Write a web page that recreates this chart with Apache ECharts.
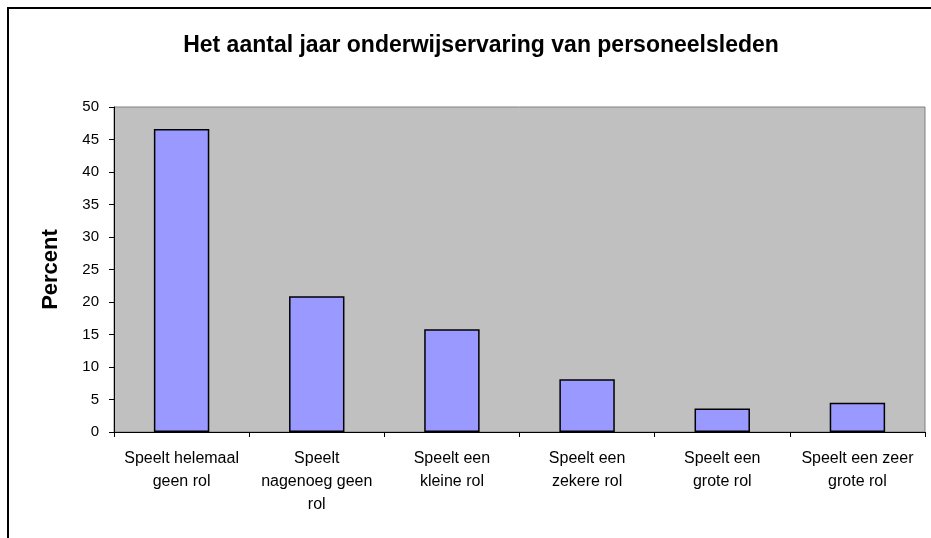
<!DOCTYPE html>
<html>
<head>
<meta charset="utf-8">
<script src="https://cdn.jsdelivr.net/npm/echarts@6/dist/echarts.min.js"></script>
<style>
  html, body { margin: 0; padding: 0; background: #fff; overflow: hidden; }
  #frame { position: absolute; left: 7px; top: 7px; width: 940px; height: 550px;
           border-left: 2px solid #000; border-top: 2px solid #000; }
  #chart { position: absolute; left: 0; top: 0; width: 931px; height: 538px; }
</style>
</head>
<body>
<div id="frame"></div>
<div id="chart"></div>
<script>
var categories = [
  'Speelt helemaal\ngeen rol',
  'Speelt\nnagenoeg geen\nrol',
  'Speelt een\nkleine rol',
  'Speelt een\nzekere rol',
  'Speelt een\ngrote rol',
  'Speelt een zeer\ngrote rol'
];
var percent = [46.6, 20.9, 15.8, 8.1, 3.6, 4.5];
var yTicks = { min: 0, max: 50, interval: 5 };

var chart = echarts.init(document.getElementById('chart'));
chart.setOption({
  animation: false,
  title: {
    text: 'Het aantal jaar onderwijservaring van personeelsleden',
    left: 476, top: 29, textAlign: 'center',
    textStyle: { fontFamily: 'Liberation Sans', fontSize: 23, fontWeight: 'bold', color: '#000' }
  },
  grid: {
    left: 114, top: 107, right: 6, bottom: 106,
    show: true, backgroundColor: '#C0C0C0', borderColor: '#808080', borderWidth: 1
  },
  xAxis: {
    type: 'category',
    data: categories,
    axisLine: { lineStyle: { color: '#000', width: 1 } },
    axisTick: { show: true, length: 5, lineStyle: { color: '#000' } },
    axisLabel: {
      interval: 0, margin: 15, color: '#000', lineHeight: 23,
      fontFamily: 'Liberation Sans', fontSize: 16
    }
  },
  yAxis: {
    type: 'value',
    min: yTicks.min, max: yTicks.max, interval: yTicks.interval,
    name: 'Percent', nameLocation: 'middle', nameGap: 52, nameRotate: 90,
    nameTextStyle: { fontFamily: 'Liberation Sans', fontSize: 22, fontWeight: 'bold', color: '#000' },
    axisLine: { show: true, lineStyle: { color: '#000', width: 1 } },
    axisTick: { show: true, length: 5, lineStyle: { color: '#000' } },
    splitLine: { show: false },
    axisLabel: { margin: 15, color: '#000', fontFamily: 'Liberation Sans', fontSize: 15 }
  },
  series: [{
    type: 'bar',
    data: percent,
    barWidth: '41%',
    itemStyle: { color: '#9999FF', borderColor: '#000', borderWidth: 1.5 }
  }]
});
</script>
</body>
</html>
